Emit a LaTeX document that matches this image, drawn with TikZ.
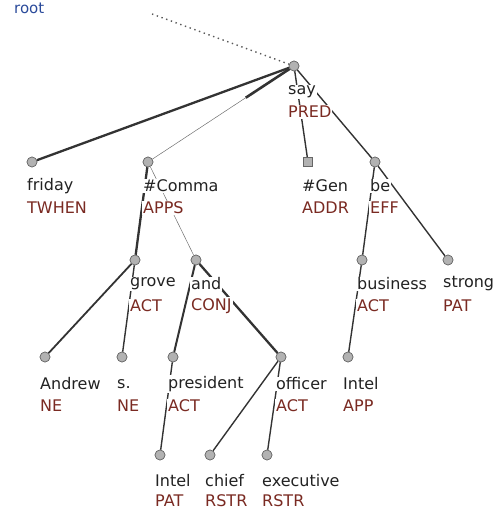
\documentclass[tikz,border=0pt]{standalone}
\usepackage{fontspec}
\setmainfont{DejaVu Sans}
\usetikzlibrary{calc}
\definecolor{fnc}{HTML}{7A2A22}
\definecolor{wrd}{HTML}{222222}
\definecolor{rootc}{HTML}{2A4A9A}
\definecolor{edg}{HTML}{333333}
\tikzset{
  nd/.style={circle,draw=black!60,fill=black!30,line width=0.6pt,minimum size=10pt,inner sep=0pt},
  sq/.style={rectangle,draw=black!60,fill=black!30,line width=0.6pt,minimum size=9pt,inner sep=0pt},
  wd/.style={anchor=west,fill=white,inner sep=1pt,text=wrd,font=\fontsize{16}{17}\selectfont},
  fn/.style={anchor=west,fill=white,inner sep=1pt,text=fnc,font=\fontsize{16}{17}\selectfont},
  thk/.style={draw=edg,line width=2.3pt},
  med/.style={draw=edg,line width=1.4pt},
  thn/.style={draw=edg!70,line width=0.5pt},
}
\begin{document}
\begin{tikzpicture}[x=1pt,y=-1pt]
\useasboundingbox (0,0) rectangle (496,510);
% node positions
\coordinate (rootend) at (152,14);
\node[nd] (say) at (294,66) {};
\node[nd] (friday) at (32,162) {};
\node[nd] (comma) at (148,162) {};
\node[sq] (gen) at (308,162) {};
\node[nd] (be) at (375,162) {};
\node[nd] (grove) at (135,260) {};
\node[nd] (and) at (196,260) {};
\node[nd] (business) at (362,260) {};
\node[nd] (strong) at (448,260) {};
\node[nd] (andrew) at (45,357) {};
\node[nd] (s) at (122,357) {};
\node[nd] (president) at (173,357) {};
\node[nd] (officer) at (281,357) {};
\node[nd] (intelapp) at (348,357) {};
\node[nd] (intelpat) at (160,455) {};
\node[nd] (chief) at (210,455) {};
\node[nd] (exec) at (267,455) {};
% edges
\draw[draw=black!65,line width=1.4pt,dash pattern=on 1.4pt off 3.6pt] (rootend) -- (say);
\draw[thk] (say) -- (friday);
\draw[thn] (say) -- (comma);
\draw[thk,line width=2.6pt] (say) -- ($(say)!0.33!(comma)$);
\draw[med] (say) -- (gen);
\draw[med] (say) -- (be);
\draw[thk] (comma) -- (grove);
\draw[thn] (comma) -- (and);
\draw[med] (be) -- (business);
\draw[med] (be) -- (strong);
\draw[med,line width=1.8pt] (grove) -- (andrew);
\draw[med] (grove) -- (s);
\draw[thk,line width=2pt] (and) -- (president);
\draw[thk] (and) -- (officer);
\draw[med] (business) -- (intelapp);
\draw[med] (president) -- (intelpat);
\draw[med] (officer) -- (chief);
\draw[med] (officer) -- (exec);
% redraw node markers on top
\foreach \n in {say,friday,comma,be,grove,and,business,strong,andrew,s,president,officer,intelapp,intelpat,chief,exec}
  \node[nd] at (\n) {};
\node[sq] at (gen) {};
% labels
\node[anchor=west,text=rootc,font=\fontsize{15}{16}\selectfont,inner sep=0pt] (root) at (14,8) {root};
\node[wd] (sayw) at (287,92) {say};
\node[fn] (sayf) at (287,112) {PRED};
\node[wd] at (26,186) {friday};
\node[fn] at (26,208) {TWHEN};
\node[wd] at (142,186) {\#Comma};
\node[fn] at (142,208) {APPS};
\node[wd] at (301,186) {\#Gen};
\node[fn] at (301,208) {ADDR};
\node[wd] at (369,186) {be};
\node[fn] at (369,208) {EFF};
\node[wd] at (129,284) {grove};
\node[fn] at (129,306) {ACT};
\node[wd] at (190,284) {and};
\node[fn] at (190,306) {CONJ};
\node[wd] at (356,284) {business};
\node[fn] at (356,306) {ACT};
\node[wd] at (442,284) {strong};
\node[fn] at (442,306) {PAT};
\node[wd] at (39,384) {Andrew};
\node[fn] at (39,406) {NE};
\node[wd] at (116,384) {s.};
\node[fn] at (116,406) {NE};
\node[wd] at (167,384) {president};
\node[fn] at (167,406) {ACT};
\node[wd] at (275,384) {officer};
\node[fn] at (275,406) {ACT};
\node[wd] at (342,384) {Intel};
\node[fn] at (342,406) {APP};
\node[wd] at (154,481) {Intel};
\node[fn] at (154,501) {PAT};
\node[wd] at (204,481) {chief};
\node[fn] at (204,501) {RSTR};
\node[wd] at (261,481) {executive};
\node[fn] at (261,501) {RSTR};
\end{tikzpicture}
\end{document}
